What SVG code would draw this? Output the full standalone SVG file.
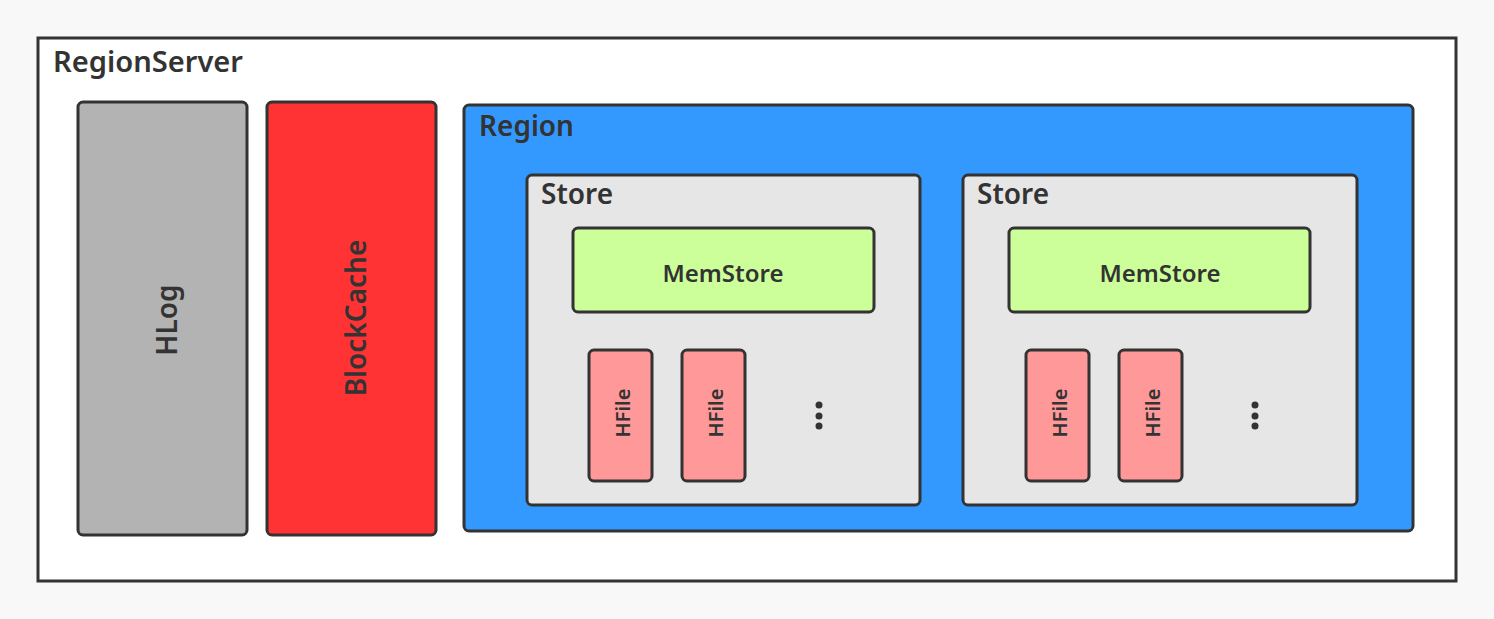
<svg xmlns="http://www.w3.org/2000/svg" width="1494" height="619" viewBox="0 0 1494 619">
<style>
.box{stroke:#333;stroke-width:3}
.t{font-family:"Noto Sans","Open Sans","DejaVu Sans",sans-serif;fill:#333}
.lbl{font-size:28px;font-weight:600}
.bold{font-weight:600}
.mid{text-anchor:middle;dominant-baseline:central}
</style>
<rect x="0" y="0" width="1494" height="619" fill="#f8f8f8"/>
<g id="regionserver">
<rect x="38" y="38" width="1418" height="543" fill="#ffffff" stroke="#333" stroke-width="3"/>
<text class="t lbl" x="53" y="72" textLength="190" lengthAdjust="spacingAndGlyphs">RegionServer</text>
</g>
<g id="hlog">
<rect class="box" x="78" y="102" width="169" height="433" rx="5" fill="#b3b3b3"/>
<text class="t bold mid" font-size="28" transform="translate(166,320) rotate(-90)">HLog</text>
</g>
<g id="blockcache">
<rect class="box" x="267" y="102" width="169" height="433" rx="5" fill="#ff3333" stroke="#3a2a2a"/>
<text class="t bold mid" font-size="28" transform="translate(355,318) rotate(-90)">BlockCache</text>
</g>
<g id="region">
<rect class="box" x="464" y="105" width="949" height="426" rx="5" fill="#3399ff"/>
<text class="t lbl" x="479" y="136">Region</text>
</g>
<g id="store1">
<rect class="box" x="527" y="175" width="393" height="330" rx="5" fill="#e6e6e6"/>
<text class="t lbl" x="541" y="204">Store</text>
</g>
<g id="memstore1">
<rect class="box" x="573" y="228" width="301" height="84" rx="5" fill="#ccff99"/>
<text class="t bold mid" font-size="24" x="723" y="272">MemStore</text>
</g>
<g id="hfile1a">
<rect class="box" x="589" y="350" width="63" height="131" rx="5" fill="#ff9999"/>
<text class="t bold mid" font-size="20" transform="translate(622,413) rotate(-90)">HFile</text>
</g>
<g id="hfile1b">
<rect class="box" x="682" y="350" width="63" height="131" rx="5" fill="#ff9999"/>
<text class="t bold mid" font-size="20" transform="translate(715,413) rotate(-90)">HFile</text>
</g>
<g id="dots1" fill="#333">
<circle cx="819" cy="405" r="3.5"/><circle cx="819" cy="416" r="3.5"/><circle cx="819" cy="426" r="3.5"/>
</g>
<g id="store2">
<rect class="box" x="963" y="175" width="394" height="330" rx="5" fill="#e6e6e6"/>
<text class="t lbl" x="977" y="204">Store</text>
</g>
<g id="memstore2">
<rect class="box" x="1009" y="228" width="301" height="84" rx="5" fill="#ccff99"/>
<text class="t bold mid" font-size="24" x="1160" y="272">MemStore</text>
</g>
<g id="hfile2a">
<rect class="box" x="1026" y="350" width="63" height="131" rx="5" fill="#ff9999"/>
<text class="t bold mid" font-size="20" transform="translate(1059,413) rotate(-90)">HFile</text>
</g>
<g id="hfile2b">
<rect class="box" x="1119" y="350" width="63" height="131" rx="5" fill="#ff9999"/>
<text class="t bold mid" font-size="20" transform="translate(1152,413) rotate(-90)">HFile</text>
</g>
<g id="dots2" fill="#333">
<circle cx="1255" cy="405" r="3.5"/><circle cx="1255" cy="416" r="3.5"/><circle cx="1255" cy="426" r="3.5"/>
</g>
<g id="connectors"></g>
</svg>
